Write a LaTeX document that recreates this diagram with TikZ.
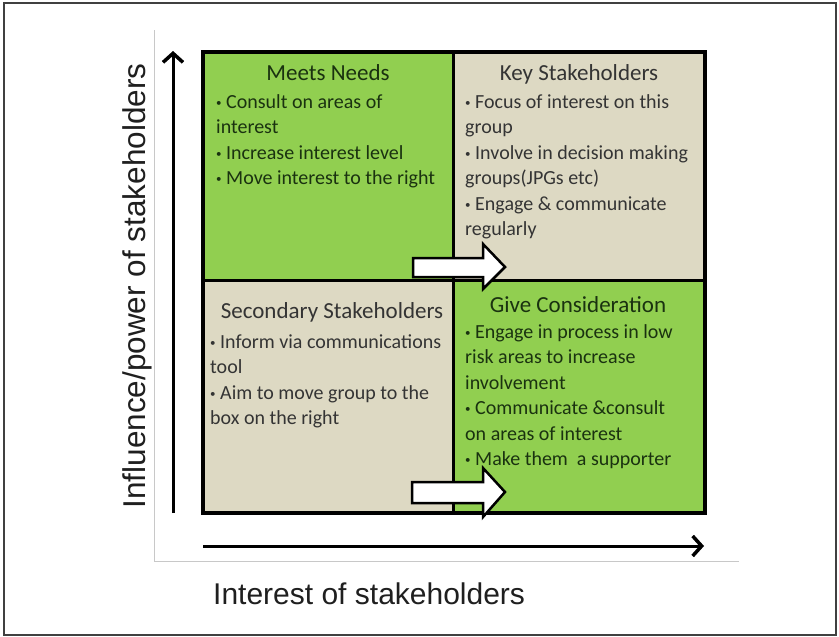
\documentclass[tikz,border=0pt]{standalone}
\usepackage{fontspec}
\setmainfont{Carlito}
\newfontfamily\arialf{Liberation Sans}
\usetikzlibrary{arrows.meta}
\definecolor{cgreen}{RGB}{145,207,80}
\definecolor{cbeige}{RGB}{221,217,195}
\definecolor{tgreen}{RGB}{26,50,16}
\definecolor{tbeige}{RGB}{52,52,52}
\definecolor{framegray}{RGB}{200,200,200}
\newcommand{\bul}{\raisebox{2pt}{\fontsize{11}{11}\selectfont\textbullet}\ }
\tikzset{
  cell/.style={line width=3pt, draw=black},
  ttl/.style={inner sep=0pt, anchor=base, font=\fontsize{23}{27}\selectfont},
  ln/.style={inner sep=0pt, anchor=base west, font=\fontsize{20}{25}\selectfont},
  blockarrow/.style={fill=white, draw=black, line width=2.5pt, line join=miter},
  axis/.style={line width=3pt, -{Straight Barb[length=9pt,width=20pt,line width=3.5pt]}},
  axlabel/.style={inner sep=0pt, font=\arialf\selectfont, text=black!88}
}
\begin{document}
\begin{tikzpicture}[x=1pt,y=-1pt]
\useasboundingbox (0,0) rectangle (839,637);
\fill[white] (0,0) rectangle (839,637);
% outer frame
\draw[line width=1.5pt, black!75] (4,3) rectangle (836,635);
% inner gray frame
\draw[framegray, line width=1pt] (154,30) -- (154,561) -- (739,561);
% cells
\fill[cgreen] (203,52) rectangle (453,280);
\fill[cbeige] (453,52) rectangle (705,280);
\fill[cbeige] (203,280) rectangle (453,513);
\fill[cgreen] (453,280) rectangle (705,513);
\draw[cell] (203,52) rectangle (453,280);
\draw[cell] (453,52) rectangle (705,280);
\draw[cell] (203,280) rectangle (453,513);
\draw[cell] (453,280) rectangle (705,513);
\draw[line width=3.5pt] (203,52) rectangle (705,513);
% top-left
\node[ttl, text=tgreen] (tlt) at (328,80) {Meets Needs};
\foreach \t [count=\i] in {{\bul Consult on areas of},{interest},{\bul Increase interest level},{\bul Move interest to the right}}
  \node[ln, text=tgreen] (tl\i) at (216,108+25.5*\i-25.5) {\t};
% top-right
\node[ttl, text=tbeige] (trt) at (579,80) {Key Stakeholders};
\foreach \t [count=\i] in {{\bul Focus of interest on this},{group},{\bul Involve in decision making},{groups(JPGs etc)},{\bul Engage \& communicate},{regularly}}
  \node[ln, text=tbeige] (tr\i) at (465,108+25.5*\i-25.5) {\t};
% bottom-left
\node[ttl, text=tbeige] (blt) at (332,318) {Secondary Stakeholders};
\foreach \t [count=\i] in {{\bul Inform via communications},{tool},{\bul Aim to move group to the},{box on the right}}
  \node[ln, text=tbeige] (bl\i) at (210,348+25.5*\i-25.5) {\t};
% bottom-right
\node[ttl, text=tgreen] (brt) at (578,312) {Give Consideration};
\foreach \t [count=\i] in {{\bul Engage in process in low},{risk areas to increase},{involvement},{\bul Communicate \&consult},{on areas of interest},{\bul Make them\ \ a supporter}}
  \node[ln, text=tgreen] (br\i) at (465,338+25.5*\i-25.5) {\t};
% block arrows
\draw[blockarrow] (413,258) -- (483,258) -- (483,244) -- (505,267) -- (483,289) -- (483,277) -- (413,277) -- cycle;
\draw[blockarrow] (412,482) -- (483,482) -- (483,468) -- (505,492) -- (483,517) -- (483,503) -- (412,503) -- cycle;
% axes
\coordinate (ybot) at (173,513);
\coordinate (ytop) at (173,51);
\coordinate (xleft) at (203,546);
\coordinate (xright) at (704,546);
\draw[axis] (ybot) -- (ytop);
\draw[axis] (xleft) -- (xright);
\node[axlabel, rotate=90, anchor=base, font=\arialf\fontsize{31.5}{34}\selectfont] (ylab) at (145,286) {Influence/power of stakeholders};
\node[axlabel, anchor=base west, font=\arialf\fontsize{30}{32}\selectfont] (xlab) at (213,604) {Interest of stakeholders};
\end{tikzpicture}
\end{document}
